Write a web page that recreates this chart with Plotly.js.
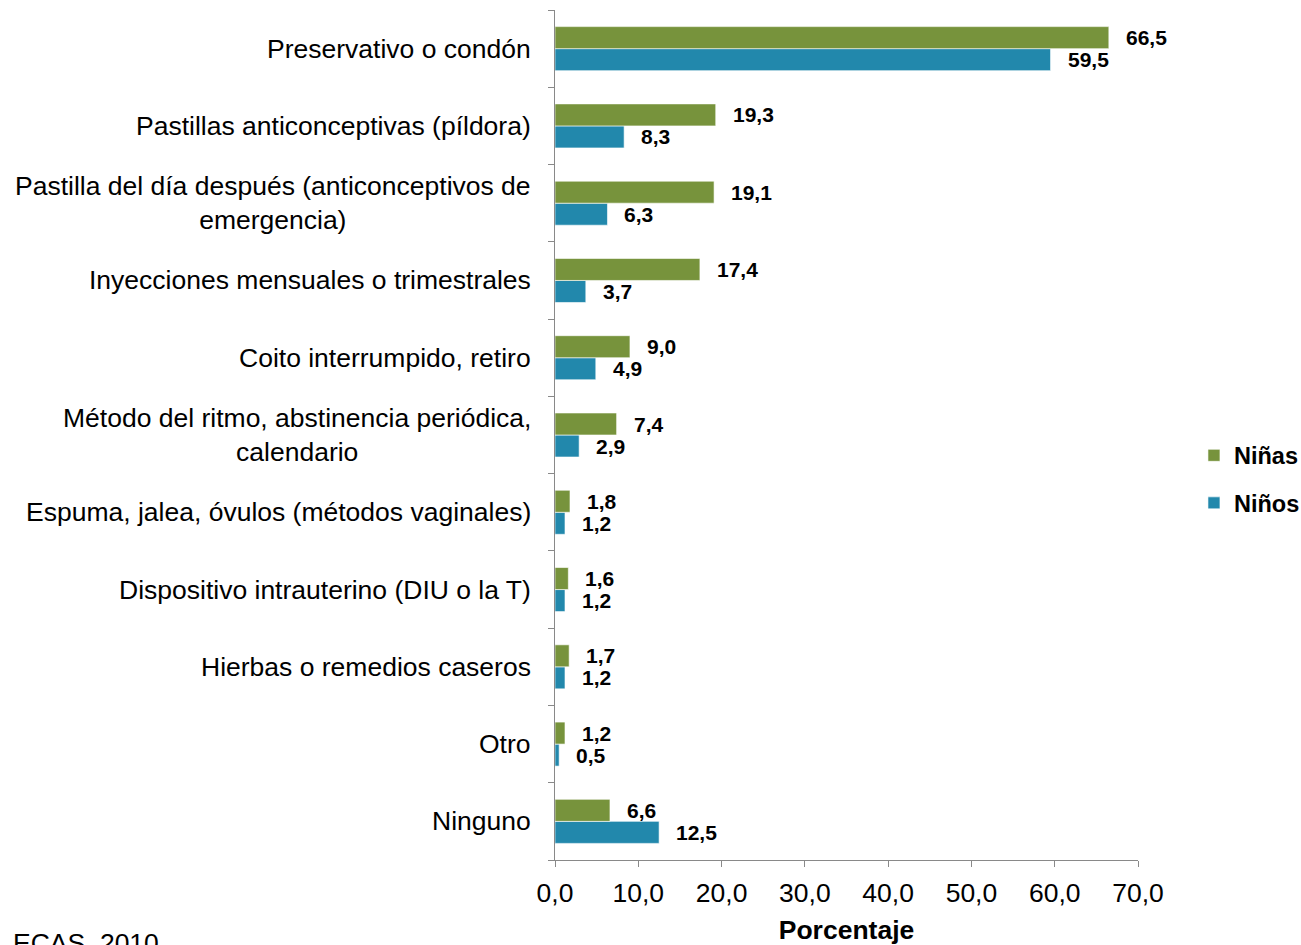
<!DOCTYPE html>
<html>
<head>
<meta charset="utf-8">
<script src="https://cdn.plot.ly/plotly-3.0.1.min.js"></script>
<style>html,body{margin:0;padding:0;background:#fff;}#chart{width:1301px;height:945px;}</style>
</head>
<body>
<div id="chart"></div>
<script>
const categories = [
  "Preservativo o condón",
  "Pastillas anticonceptivas (píldora)",
  "Pastilla del día después (anticonceptivos de<br>emergencia)",
  "Inyecciones mensuales o trimestrales",
  "Coito interrumpido, retiro",
  "Método del ritmo, abstinencia periódica,<br>calendario",
  "Espuma, jalea, óvulos (métodos vaginales)",
  "Dispositivo intrauterino (DIU o la T)",
  "Hierbas o remedios caseros",
  "Otro",
  "Ninguno"
];
const ninas = [66.5, 19.3, 19.1, 17.4, 9.0, 7.4, 1.8, 1.6, 1.7, 1.2, 6.6];
const ninos = [59.5, 8.3, 6.3, 3.7, 4.9, 2.9, 1.2, 1.2, 1.2, 0.5, 12.5];
const seriesNames = ["Niñas", "Niños"];
const xTicks = [0, 10, 20, 30, 40, 50, 60, 70];
const sourceText = "ECAS, 2010";
const xTitle = "Porcentaje";

const GREEN = "#77933C", BLUE = "#2288AC";
const FONT = "Liberation Sans, Arial, sans-serif";
const fmt = v => v.toFixed(1).replace(".", ",");

const traces = [
  {type: "bar", orientation: "h", name: seriesNames[1], y: categories, x: ninos,
   marker: {color: BLUE, line: {color: "rgba(255,255,255,0.6)", width: 1}},
   legendgroup: "b", legendrank: 2, hoverinfo: "skip"},
  {type: "bar", orientation: "h", name: seriesNames[0], y: categories, x: ninas,
   marker: {color: GREEN, line: {color: "rgba(255,255,255,0.6)", width: 1}},
   legendgroup: "a", legendrank: 1, hoverinfo: "skip"}
];

const annotations = [];
categories.forEach((c, i) => {
  annotations.push({xref: "paper", yref: "y", x: 0, y: c, xanchor: "right", yanchor: "middle",
    xshift: -22, align: "center", showarrow: false, text: c,
    font: {family: FONT, size: 26.5, color: "#000"}});
  annotations.push({xref: "x", yref: "y", x: ninas[i], y: c, xanchor: "left", yanchor: "middle",
    xshift: 15, yshift: 11, showarrow: false, text: "<b>" + fmt(ninas[i]) + "</b>",
    font: {family: FONT, size: 21, color: "#000"}});
  annotations.push({xref: "x", yref: "y", x: ninos[i], y: c, xanchor: "left", yanchor: "middle",
    xshift: 15, yshift: -11, showarrow: false, text: "<b>" + fmt(ninos[i]) + "</b>",
    font: {family: FONT, size: 21, color: "#000"}});
});
annotations.push({xref: "paper", yref: "paper", x: -0.933, y: -0.078, xanchor: "left", yanchor: "top",
  showarrow: false, text: sourceText,
  font: {family: FONT, size: 26.5, color: "#000"}});

const layout = {
  width: 1301, height: 945,
  margin: {l: 555, r: 163, t: 10, b: 85, pad: 0, autoexpand: false},
  paper_bgcolor: "#fff", plot_bgcolor: "#fff",
  barmode: "group", bargap: 0.43, bargroupgap: 0,
  separators: ", ",
  font: {family: FONT, color: "#000"},
  xaxis: {range: [0, 70], tickvals: xTicks, tickformat: ".1f", showgrid: false, zeroline: false,
    showline: true, linecolor: "#898989", linewidth: 1, ticks: "outside", ticklen: 6, tickcolor: "#898989",
    ticklabelstandoff: 3,
    tickfont: {family: FONT, size: 26.5, color: "#000"}, fixedrange: true,
    title: {text: "<b>" + xTitle + "</b>", font: {family: FONT, size: 26.5, color: "#000"}, standoff: 14}},
  yaxis: {type: "category", categoryorder: "array", categoryarray: categories.slice().reverse(),
    showticklabels: false, showgrid: false, zeroline: false, showline: true, linecolor: "#898989",
    linewidth: 1, ticks: "outside", ticklen: 6, tickcolor: "#898989", tickson: "boundaries", fixedrange: true},
  showlegend: true,
  legend: {x: 1.096, xanchor: "left", y: 0.4476, yanchor: "middle", traceorder: "grouped",
    tracegroupgap: 14, font: {family: FONT, size: 23.5, weight: "bold", color: "#000"}, bgcolor: "rgba(0,0,0,0)"},
  annotations: annotations
};

Plotly.newPlot("chart", traces, layout, {displayModeBar: false, staticPlot: true});
</script>
</body>
</html>
